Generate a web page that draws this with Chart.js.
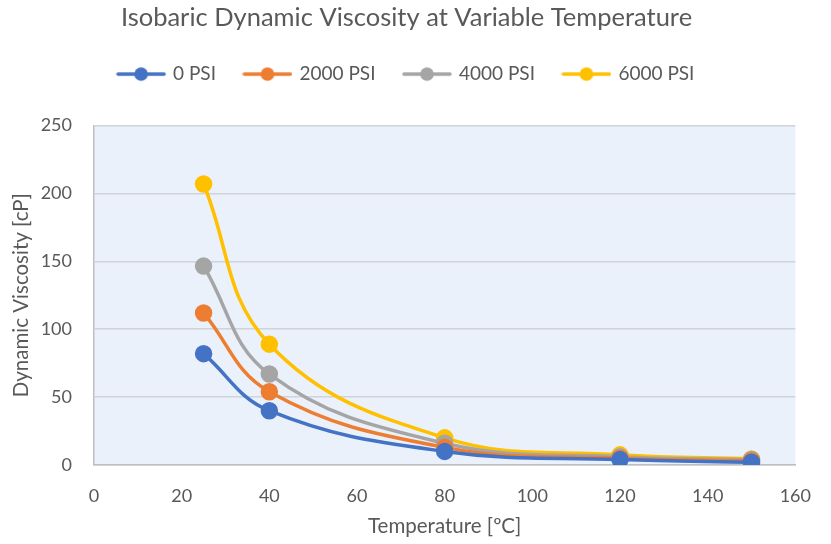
<!DOCTYPE html>
<html>
<head>
<meta charset="utf-8">
<script src="https://cdn.jsdelivr.net/npm/chart.js@4"></script>
<style>
  html, body { margin: 0; padding: 0; background: #fff; }
  #wrap { width: 831px; height: 544px; }
</style>
</head>
<body>
<div id="wrap"><canvas id="visc" width="831" height="544"></canvas></div>
<script>
// Temperatures [°C] and viscosity [cP] per pressure level
const temps = [25, 40, 80, 120, 150];
const psi0 = [82, 40, 10, 4, 2];
const psi2000 = [112, 54, 13, 5, 3];
const psi4000 = [146.5, 67, 16, 6, 4];
const psi6000 = [207, 89, 20, 7.5, 4.5];
const seriesNames = ['0 PSI', '2000 PSI', '4000 PSI', '6000 PSI'];
const colors = ['#4472C4', '#ED7D31', '#A5A5A5', '#FFC000'];
const xTicks = [0, 20, 40, 60, 80, 100, 120, 140, 160];
const yTicks = [0, 50, 100, 150, 200, 250];

const FONT = 'Lato, "Open Sans", sans-serif';
const TEXT = '#595959';

// legend swatch: short line with a dot in the middle
function swatch(color) {
  const c = document.createElement('canvas');
  c.width = 50; c.height = 16;
  const g = c.getContext('2d');
  g.strokeStyle = color; g.lineWidth = 3.5; g.lineCap = 'round';
  g.beginPath(); g.moveTo(2, 8); g.lineTo(48, 8); g.stroke();
  g.fillStyle = color;
  g.beginPath(); g.arc(25, 8, 6.8, 0, Math.PI * 2); g.fill();
  return c;
}

const plotBg = {
  id: 'plotBg',
  beforeDraw(chart) {
    const { ctx, chartArea: a } = chart;
    ctx.save();
    ctx.fillStyle = '#EAF1FB';
    ctx.fillRect(a.left, a.top, a.right - a.left, a.bottom - a.top);
    ctx.restore();
  }
};

// leave extra room between the legend row and the plot
const legendGap = {
  id: 'legendGap',
  beforeLayout(chart) {
    const lg = chart.legend;
    if (!lg || lg._gapPatched) return;
    const fit = lg.fit;
    lg.fit = function () { fit.call(this); this.height += 32; };
    lg._gapPatched = true;
  }
};

const values = [psi0, psi2000, psi4000, psi6000];
const datasets = values.map((vals, i) => ({
  label: seriesNames[i],
  data: temps.map((t, j) => ({ x: t, y: vals[j] })),
  borderColor: colors[i],
  backgroundColor: colors[i],
  borderWidth: 3.5,
  pointRadius: 7,
  pointHoverRadius: 7,
  pointStyle: 'circle',
  tension: 0.4,
  fill: false,
}));

new Chart(document.getElementById('visc'), {
  type: 'line',
  data: { datasets },
  plugins: [plotBg, legendGap],
  options: {
    responsive: false,
    animation: false,
    layout: { padding: { left: 16, right: 34, top: 0, bottom: 0 } },
    plugins: {
      tooltip: { enabled: false },
      title: {
        display: true,
        text: 'Isobaric Dynamic Viscosity at Variable Temperature',
        color: TEXT,
        font: { family: FONT, size: 25.5, weight: 'normal' },
        padding: { top: 2, bottom: 3 },
      },
      legend: {
        position: 'top',
        labels: {
          color: TEXT,
          font: { family: FONT, size: 19 },
          usePointStyle: true,
          pointStyleWidth: 45,
          boxHeight: 16,
          padding: 29,
          generateLabels: chart => chart.data.datasets.map((d, i) => ({
            text: d.label,
            fontColor: TEXT,
            pointStyle: swatch(colors[i]),
            datasetIndex: i,
            lineWidth: 0,
          })),
        },
      },
    },
    scales: {
      x: {
        type: 'linear',
        min: 0, max: 160,
        afterBuildTicks: s => { s.ticks = xTicks.map(v => ({ value: v })); },
        afterFit: s => { s.height = 79; },
        grid: { display: false, drawTicks: false },
        border: { display: true, color: '#BFBFBF', width: 1.5 },
        ticks: { color: TEXT, font: { family: FONT, size: 18 }, padding: 20, maxRotation: 0 },
        title: {
          display: true,
          text: 'Temperature [ºC]',
          color: TEXT,
          font: { family: FONT, size: 20.5 },
          padding: { top: 0, bottom: 5 },
        },
      },
      y: {
        min: 0, max: 250,
        afterBuildTicks: s => { s.ticks = yTicks.map(v => ({ value: v })); },
        afterFit: s => { s.width = 78; },
        grid: { color: '#D0D4DA', lineWidth: 1.5, drawTicks: false },
        border: { display: true, color: '#BFBFBF', width: 1.5 },
        ticks: { color: TEXT, font: { family: FONT, size: 18 }, padding: 22 },
        title: {
          display: true,
          text: 'Dynamic Viscosity [cP]',
          color: TEXT,
          font: { family: FONT, size: 20.5 },
          padding: { top: -7, bottom: 0 },
        },
      },
    },
  },
});
</script>
</body>
</html>
